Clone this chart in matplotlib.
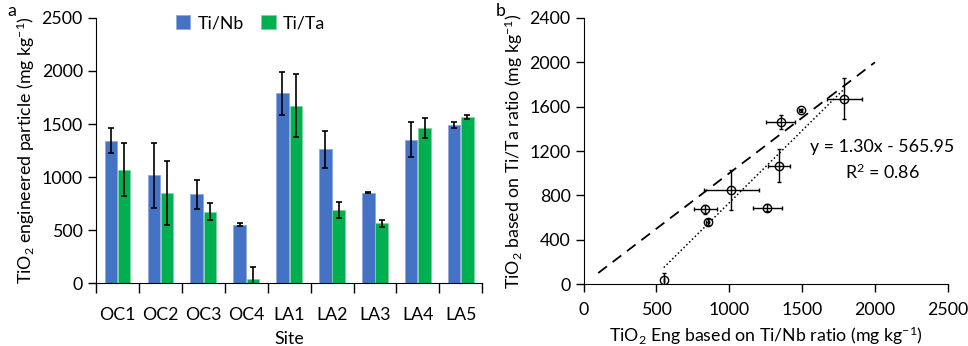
import matplotlib
matplotlib.use("Agg")
import matplotlib.pyplot as plt
import numpy as np

plt.rcParams["font.family"] = ["Lato", "DejaVu Sans"]
plt.rcParams["mathtext.fontset"] = "custom"
plt.rcParams["mathtext.rm"] = "Lato"
plt.rcParams["mathtext.it"] = "Lato:italic"

sites = ["OC1", "OC2", "OC3", "OC4", "LA1", "LA2", "LA3", "LA4", "LA5"]
nb = [1342, 1015, 836, 550, 1790, 1261, 852, 1352, 1490]
nb_err = [120, 310, 140, 15, 205, 175, 5, 165, 25]
ta = [1069, 849, 673, 38, 1673, 689, 562, 1462, 1566]
ta_err = [250, 300, 80, 110, 300, 77, 33, 95, 15]

# scatter (panel b) uses smaller error bars
sc_xerr = [75, 190, 80, 0, 120, 100, 10, 100, 10]
sc_yerr = [150, 180, 40, 60, 185, 30, 25, 60, 15]

slope, icpt = 1.30, -565.95
r2 = 0.86

BLUE = "#4472C4"
GREEN = "#00B050"
FS = 12.8

fig = plt.figure(figsize=(9.68, 3.46), dpi=100)
axA = fig.add_axes([0.0992, 0.182, 0.399, 0.766])
axB = fig.add_axes([0.603, 0.179, 0.376, 0.769])

# ---- panel a: bars ----
x = np.arange(len(sites))
w = 0.29
ekw = dict(ecolor="black", elinewidth=1.2, capsize=2.2, capthick=1.2)
axA.bar(x - 0.155, nb, w, color=BLUE, edgecolor="#8fa9dc", lw=0.6, label="Ti/Nb",
        yerr=nb_err, error_kw=ekw)
axA.bar(x + 0.155, ta, w, color=GREEN, edgecolor="#7fd3a0", lw=0.6, label="Ti/Ta",
        yerr=ta_err, error_kw=ekw)
axA.set_xlim(-0.5, len(sites) - 0.5)
axA.set_ylim(0, 2500)
axA.set_yticks(np.arange(0, 2501, 500))
axA.set_xticks(np.arange(-0.5, len(sites)), minor=False)
axA.set_xticklabels([])
axA.set_xticks(x, minor=True)
axA.set_xticklabels(sites, minor=True)
axA.tick_params(axis="x", which="major", length=7, width=1, direction="out")
axA.tick_params(axis="x", which="minor", length=0, pad=17, labelsize=FS)
axA.tick_params(axis="y", length=6, width=1, labelsize=FS)
axA.set_xlabel("Site", fontsize=FS, labelpad=6)
axA.set_ylabel("TiO$_2$ engineered particle (mg kg$^{-1}$)", fontsize=FS, labelpad=3)
for s in ("top", "right"):
    axA.spines[s].set_visible(False)
axA.legend(loc="upper center", bbox_to_anchor=(0.40, 1.07), ncol=2, frameon=False,
           fontsize=FS, handlelength=0.8, handleheight=0.8, handletextpad=0.4,
           columnspacing=1.0)

# ---- panel b: scatter ----
axB.errorbar(nb, ta, xerr=sc_xerr, yerr=sc_yerr, fmt="o", mfc="none", mec="black",
             ms=6, mew=1, ecolor="black", elinewidth=1, capsize=1.5, zorder=3)
axB.plot([100, 2000], [100, 2000], color="black", ls=(0, (6, 4)), lw=1.3)
xf = np.array([min(nb), max(nb)])
axB.plot(xf, slope * xf + icpt, color="black", ls=(0, (1, 1.6)), lw=1.1)
axB.text(2050, 1236, f"y = {slope:.2f}x - {abs(icpt):.2f}", fontsize=FS, ha="center",
         va="center")
axB.text(2050, 1010, f"R$^2$ = {r2:.2f}", fontsize=FS, ha="center", va="center")
axB.set_xlim(0, 2500)
axB.set_ylim(0, 2400)
axB.set_xticks(np.arange(0, 2501, 500))
axB.set_yticks(np.arange(0, 2401, 400))
axB.tick_params(length=6, width=1, labelsize=FS)
axB.tick_params(axis="x", pad=7)
axB.set_xlabel("TiO$_2$ Eng based on Ti/Nb ratio (mg kg$^{-1}$)", fontsize=FS, labelpad=5)
axB.set_ylabel("TiO$_2$ based on Ti/Ta ratio (mg kg$^{-1}$)", fontsize=FS, labelpad=3)
for s in ("top", "right"):
    axB.spines[s].set_visible(False)

fig.text(0.008, 0.955, "a", fontsize=FS)
fig.text(0.512, 0.955, "b", fontsize=FS)

fig.savefig("out.png", dpi=100)
